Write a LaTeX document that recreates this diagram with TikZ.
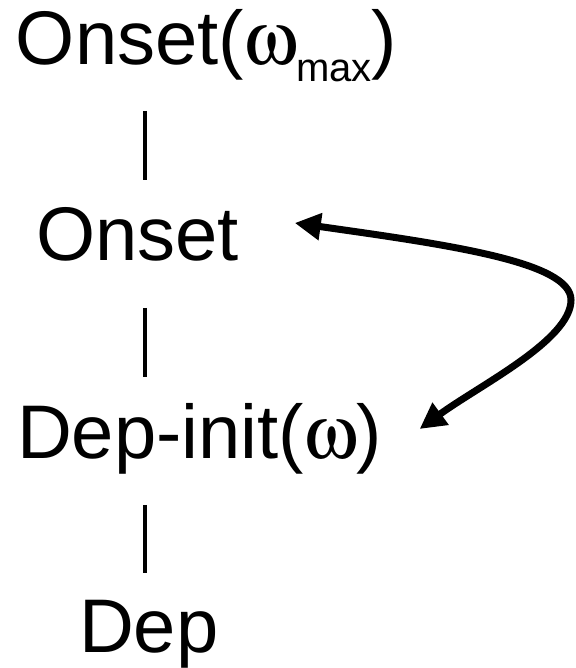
\documentclass[tikz,border=0pt]{standalone}
\usepackage{fontspec}
\setmainfont{Liberation Sans}
\usepackage[Symbol]{upgreek}
\usetikzlibrary{arrows.meta,calc}
\newcommand{\myom}{$\upomega$}
\begin{document}
\begin{tikzpicture}[x=1pt,y=1pt,
  lbl/.style={anchor=base west,inner sep=0pt,outer sep=0pt,font=\fontsize{76}{76}\selectfont},
  vline/.style={line width=4pt},
  loop/.style={line width=7pt,{Triangle[length=26pt,width=26pt]}-{Triangle[length=26pt,width=26pt]}}]
\useasboundingbox (0,0) rectangle (575,668);
\node[lbl] (n1) at (16,603) {Onset(\myom\raisebox{-17pt}{\fontsize{40}{40}\selectfont max})};
\node[lbl] (n2) at (36,407) {Onset};
\node[lbl] (n3) at (17,209) {Dep-init(\myom)};
\node[lbl] (n4) at (79,16) {Dep};
\coordinate (a1) at (145,557);
\coordinate (b1) at (145,488);
\coordinate (a2) at (145,360);
\coordinate (b2) at (145,291);
\coordinate (a3) at (145,163);
\coordinate (b3) at (145,95);
\draw[vline] (a1) -- (b1);
\draw[vline] (a2) -- (b2);
\draw[vline] (a3) -- (b3);
\coordinate (r) at (571,368);
\draw[loop] ($(n2.base east)+(56,38)$) .. controls (450,423) and (571,406) .. (r)
  .. controls (571,328) and (480,283) .. ($(n3.base east)+(38,30)$);
\end{tikzpicture}
\end{document}
